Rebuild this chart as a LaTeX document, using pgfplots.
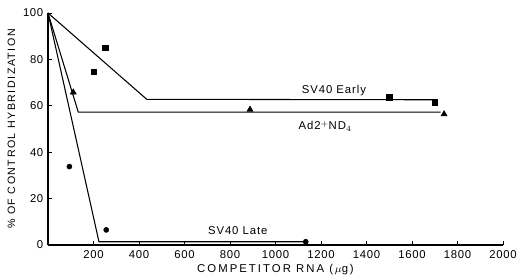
\documentclass[border=0pt]{standalone}
\usepackage{pgfplots}
\pgfplotsset{compat=1.18}
\usepackage{fontspec}
\setmainfont{Liberation Sans}
\newfontfamily\lblfont[LetterSpace=14]{Liberation Sans}
\newfontfamily\xlblfont[LetterSpace=18]{Liberation Sans}
\newfontfamily\tickfont[LetterSpace=6]{Liberation Sans}
\newfontfamily\txtfont[LetterSpace=8]{Liberation Sans}
\begin{document}
\begin{tikzpicture}
\begin{axis}[
  name=ax,
  scale only axis,
  width=341.25pt, height=174pt,
  xmin=0, xmax=2000, ymin=0, ymax=100,
  axis lines=left,
  axis line style={-, line width=0.8pt},
  xtick={200,400,...,2000},
  ytick={0,20,...,100},
  tick align=inside,
  major tick length=3pt,
  tick style={line width=0.6pt, black},
  /pgf/number format/assume math mode=true,
  /pgf/number format/1000 sep={},
  ticklabel style={font=\tickfont\fontsize{8.5}{9}\selectfont},
  xticklabel style={yshift=-1pt},
  xlabel={COMPETITOR RNA (\,$\mu$g\,)},
  ylabel={\% OF CONTROL HYBRIDIZATION},
  ylabel style={font=\lblfont\fontsize{8}{9}\selectfont, yshift=-1pt},
  xlabel style={font=\xlblfont\fontsize{8.5}{9}\selectfont, yshift=3pt},
  clip=false,
]
% fitted lines
\addplot[black, line width=0.8pt] coordinates {(0,100) (434,62.8) (1700,62.6)};
\addplot[black, line width=0.8pt] coordinates {(0,100) (133,57.3) (1726,57.3)};
\addplot[black, line width=0.8pt] coordinates {(0,100) (224,1.4) (1133,1.4)};
% data points
\addplot[only marks, mark=square*, mark size=2pt, black] coordinates {(202,74.7) (252,85) (1500,63.7) (1701,61.5)};
\addplot[only marks, mark=triangle*, mark size=2.6pt, black] coordinates {(111,65.8) (888,58.4) (1741,56.4)};
\addplot[only marks, mark=*, mark size=1.9pt, black] coordinates {(94,33.8) (256,6.5) (1133,1.4)};
% labels
\node[font=\txtfont\fontsize{8.5}{9}\selectfont] at (axis cs:1257,66.6) {SV40 Early};
\node[font=\txtfont\fontsize{8.5}{9}\selectfont] at (axis cs:1218,51.2) {Ad2$^{+}$ND$_4$};
\node[font=\txtfont\fontsize{8.5}{9}\selectfont] at (axis cs:834,6.2) {SV40 Late};
\end{axis}
\path[use as bounding box] ([shift={(-36pt,-23.25pt)}]ax.south west) rectangle ([shift={(20.25pt,9.75pt)}]ax.north east);
\end{tikzpicture}
\end{document}
